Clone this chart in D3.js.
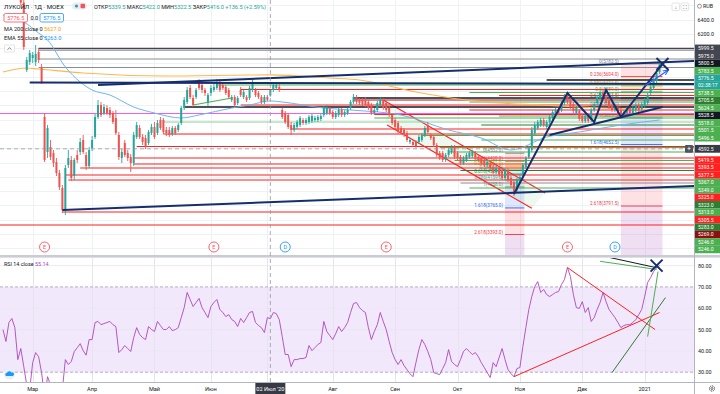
<!DOCTYPE html>
<html lang="ru">
<head>
<meta charset="utf-8">
<title>ЛУКОЙЛ · 1Д · MOEX</title>
<script src="https://cdn.jsdelivr.net/npm/d3@7"></script>
<style>
  html, body { margin: 0; padding: 0; background: #ffffff; overflow: hidden; }
  #chart { display: block; font-family: Roboto, "Liberation Sans", Arial, sans-serif; }
  #chart text { white-space: pre; }
</style>
</head>
<body>
<svg id="chart"></svg>
<script>
const instrumentTitle = "ЛУКОЙЛ · 1Д · MOEX";

// daily candles [open, high, low, close], index 0 = late Feb 2020, last = 11 Jan 2021
const candles = [
  [6720,6790,6700,6760],[6760,6830,6740,6800],[6800,6880,6780,6850],[6850,6870,6760,6780],[6780,6860,6750,6830],
  [6830,6880,6790,6800],[6800,6820,6600,6640],[6640,6680,5976,6018],[5696,5878,5668,5836],[5808,5976,5766,5934],
  [5864,5948,5794,5906],[5808,6046,5752,5920],[5948,6004,5794,5836],[5724,5780,5500,5528],[5038,5094,4408,4436],
  [4548,4926,4464,4884],[4618,4716,4436,4478],[4534,4576,4338,4394],[4408,4464,4212,4254],[4254,4296,4016,4058],
  [4044,4086,3694,3736],[3736,4366,3666,4324],[4366,4576,4324,4464],[4436,4492,4142,4184],[4212,4464,4156,4436],
  [4506,4576,4394,4436],[4548,4744,4506,4688],[4716,4786,4520,4548],[4506,4548,4296,4352],[4352,4618,4324,4576],
  [4604,4772,4562,4716],[4758,5080,4730,5038],[5038,5276,5010,5206],[5206,5248,5038,5066],[5094,5220,5066,5178],
  [5164,5206,5066,5094],[5136,5178,5024,5066],[5094,5122,4940,4968],[5024,5136,4786,4814],[4786,4828,4436,4478],
  [4464,4590,4394,4548],[4674,4716,4478,4506],[4534,4576,4422,4464],[4478,4520,4268,4394],[4394,4828,4352,4786],
  [4758,4968,4730,4926],[4884,4926,4730,4758],[4758,4800,4646,4688],[4744,4786,4590,4618],[4674,4856,4646,4828],
  [4814,4940,4786,4898],[4898,4968,4730,4758],[4814,4996,4786,4954],[4996,5038,4856,4884],[4996,5024,4800,4828],
  [4856,4898,4772,4814],[4856,4898,4758,4786],[4800,4912,4772,4884],[4884,4912,4786,4814],[4856,4954,4828,4926],
  [4954,5192,4926,5164],[5164,5318,5136,5276],[5248,5458,5220,5416],[5444,5486,5290,5318],[5304,5346,5178,5206],
  [5318,5444,5290,5416],[5528,5570,5416,5444],[5486,5514,5374,5416],[5416,5444,5332,5374],[5234,5374,5192,5346],
  [5374,5486,5332,5444],[5416,5500,5388,5458],[5444,5570,5416,5528],[5528,5570,5388,5416],[5486,5514,5416,5444],
  [5458,5486,5346,5374],[5416,5444,5290,5318],[5276,5346,5248,5318],[5318,5346,5178,5206],[5234,5332,5206,5304],
  [5416,5458,5318,5346],[5318,5416,5290,5388],[5318,5346,5248,5276],[5304,5472,5276,5444],[5416,5556,5388,5514],
  [5416,5444,5318,5346],[5374,5402,5290,5318],[5318,5346,5220,5248],[5248,5346,5220,5318],[5318,5346,5262,5279.5],
  [5339.5,5422,5322.5,5416],[5416,5528,5388,5486],[5444,5514,5416,5486],[5458,5500,5388,5416],[5136,5164,5010,5038],
  [5094,5122,4940,4968],[5066,5094,4870,4898],[4926,4968,4786,4856],[4856,4954,4828,4926],[4898,4996,4870,4968],
  [4926,5052,4898,5024],[4996,5024,4926,4954],[4954,5024,4926,4996],[4968,5066,4940,5038],[4982,5080,4954,5052],
  [4996,5052,4968,5024],[4996,5066,4968,5038],[5010,5080,4982,5052],[5066,5192,5038,5164],[5094,5206,5066,5164],
  [5150,5178,5066,5094],[5108,5136,5010,5038],[5038,5122,5010,5094],[5066,5164,5038,5136],[5136,5164,5038,5066],
  [5066,5136,5038,5108],[5094,5164,5066,5136],[5164,5276,5136,5248],[5248,5360,5220,5318],[5318,5346,5220,5248],
  [5276,5304,5206,5234],[5276,5304,5192,5220],[5276,5318,5178,5206],[5248,5276,5136,5164],[5206,5234,5066,5094],
  [5094,5164,5066,5136],[5136,5262,5108,5234],[5206,5318,5178,5276],[5276,5304,5136,5164],[5234,5262,5108,5136],
  [5164,5192,5038,5066],[5066,5094,4926,4954],[4996,5024,4870,4898],[4954,4982,4800,4828],[4884,4912,4800,4828],
  [4856,4884,4758,4786],[4814,4842,4688,4716],[4688,4744,4660,4716],[4688,4716,4618,4646],[4688,4716,4604,4632],
  [4688,4786,4660,4758],[4716,4814,4688,4786],[4786,4912,4758,4884],[4926,4968,4800,4828],[4786,4814,4716,4744],
  [4758,4786,4618,4646],[4646,4674,4478,4506],[4534,4562,4436,4464],[4534,4562,4408,4436],[4436,4534,4408,4506],
  [4506,4604,4478,4576],[4548,4646,4520,4618],[4618,4646,4450,4478],[4534,4562,4436,4464],[4478,4506,4366,4394],
  [4394,4492,4366,4464],[4436,4534,4408,4506],[4478,4562,4450,4534],[4492,4576,4464,4548],[4534,4562,4450,4478],
  [4478,4506,4408,4436],[4464,4492,4366,4394],[4436,4464,4338,4366],[4366,4436,4338,4408],[4394,4422,4296,4324],
  [4338,4366,4240,4268],[4268,4352,4240,4324],[4324,4352,4198,4226],[4296,4324,4156,4184],[4184,4324,4156,4296],
  [4296,4324,4128,4156],[4184,4212,4058,4086],[4128,4156,3932,3974],[4016,4184,3974,4156],[4128,4226,4100,4198],
  [4226,4394,4198,4366],[4338,4492,4310,4464],[4478,4632,4450,4604],[4576,4898,4548,4856],[4814,4968,4786,4926],
  [4884,4996,4856,4968],[4926,5024,4898,4996],[4996,5024,4898,4926],[4898,4996,4870,4968],[4968,5066,4940,5038],
  [5024,5136,4996,5108],[5094,5164,5066,5136],[5136,5164,5066,5094],[5136,5262,5108,5234],[5234,5360,5206,5332],
  [5346,5388,5220,5248],[5276,5304,5150,5178],[5220,5248,5094,5122],[5094,5192,5066,5164],[5122,5150,4982,5010],
  [5052,5080,4954,4982],[4982,5080,4954,5052],[5066,5094,4954,4982],[4996,5164,4968,5136],[5136,5248,5108,5220],
  [5234,5346,5206,5318],[5304,5402,5276,5374],[5388,5430,5276,5304],[5318,5346,5206,5234],[5276,5304,5150,5178],
  [5206,5234,5108,5136],[5136,5206,5108,5178],[5164,5192,5038,5066],[5136,5164,5024,5052],[5052,5136,5024,5108],
  [5094,5178,5066,5150],[5164,5192,5066,5094],[5094,5192,5066,5164],[5136,5234,5108,5206],[5206,5234,5108,5136],
  [5150,5248,5122,5220],[5192,5304,5164,5276],[5234,5374,5206,5346],[5374,5500,5346,5458],[5444,5598,5416,5556],
  [5542,5696,5514,5654],[5668,5783.5,5640,5776.5]
];

// RSI 14, one value per candle
const rsi14 = [
  50.0,44.4,53.3,55.2,50.9,35.9,41.1,32.6,24.0,22.0, 34.5,39.2,37.3,29.8,18.0,27.9,24.0,20.0,17.0,14.0,
  22.0,35.9,33.6,35.0,39.7,41.5,43.4,40.1,38.0,45.3, 45.3,53.3,53.8,52.3,52.8,53.3,53.8,52.3,51.4,39.2,
  40.6,42.5,41.1,39.7,46.2,50.9,47.7,46.2,45.3,51.4, 50.0,49.1,53.8,51.9,50.0,50.0,51.4,49.5,50.0,50.9,
  55.6,60.3,67.4,64.1,60.8,62.7,64.6,60.3,58.0,55.6, 60.8,62.7,64.1,59.4,58.0,56.1,57.0,54.7,53.8,51.4,
  55.2,53.3,55.6,58.0,58.5,53.3,51.9,50.9,48.6,55.6, 55.14,58.0,57.5,54.7,46.7,38.3,38.3,32.6,35.9,35.9,
  36.4,36.4,36.9,42.5,40.1,41.5,43.0,43.9,53.8,49.1, 47.2,45.3,48.1,51.4,49.1,50.9,53.3,58.0,62.2,62.7,
  60.3,58.9,58.0,50.9,45.3,49.1,52.3,58.0,53.8,50.0, 44.4,39.2,35.9,33.6,35.9,33.1,31.2,29.3,27.9,34.5,
  40.6,45.3,43.0,39.7,35.9,29.8,29.3,28.9,31.7,34.5, 40.6,35.0,33.6,32.6,35.9,39.7,41.1,39.7,38.3,39.2,
  37.3,34.5,32.2,29.8,27.5,34.5,32.6,36.9,41.1,35.9, 31.2,29.3,27.9,31.7,32.2,42.0,50.9,59.4,65.5,70.2,
  72.5,67.4,68.8,66.4,65.5,66.4,67.4,67.8,71.1,73.5, 79.1,74.9,66.4,60.3,59.9,63.1,58.0,60.3,53.8,55.6,
  59.4,62.7,67.4,63.1,59.4,57.5,55.6,53.3,50.9,51.9, 52.3,52.3,53.3,54.7,57.0,59.4,65.5,72.1,74.4,77.2,
  79.1,80.0
];

// moving averages, [candle index, value]
const ma200 = [[0,5668],[8,5724],[12,5710],[27,5654],[55,5612],[83,5626],[90,5627],[110,5584],[120,5556],
  [139,5388],[156,5276],[167,5234],[181,5206],[201,5164],[221,5136]];
const ema55 = [[0,6466],[7,6368],[12,6214],[15,6116],[21,5738],[26,5528],[30,5416],[36,5346],[44,5178],[51,5094],
  [60,5024],[66,5066],[77,5164],[83,5206],[90,5263],[94,5248],[108,5164],[117,5136],[134,5066],[150,4856],
  [161,4744],[171,4576],[183,4758],[194,4828],[208,4926],[221,4996]];

const monthTicks = [[10,"Мар"],[30,"Апр"],[51,"Май"],[70,"Июн"],[111,"Авг"],[132,"Сен"],[153,"Окт"],[174,"Ноя"],[195,"Дек"],[216,"2021"]];
const julyIndex = 89;
const crosshairIndex = 90;
const crosshairDate = "02 Июл '20";
const crosshairPrice = 4592.5;

// horizontal levels drawn on the chart: [price, first candle index, kind]
const hLevels = [
  [5999.5,12,"dark"],[5975.0,12,"gray"],[5850.0,12,"gray"],[5731.0,12,"gray"],[5556.0,183,"black"],
  [5486.0,72,"green"],[5423.0,80,"red"],[5381.0,157,"green"],[5339.0,167,"red"],[5304.0,118,"black"],
  [5276.0,118,"dred"],[5248.0,157,"green"],[5206.0,80,"red"],[5178.0,61,"black"],[5136.0,157,"red"],
  [5087.0,-2,"pink"],[5073.0,125,"red"],[5052.0,167,"green"],[5024.0,125,"green"],[4968.0,54,"lgreen"],
  [4926.0,161,"dgreen"],[4870.0,97,"red"],[4800.0,54,"red"],[4779.0,141,"green"],[4716.0,161,"green"],
  [4625.0,45,"red"],[4611.0,147,"green"],[4548.0,150,"green"],[4464.0,44,"red"],[4429.0,152,"green"],
  [4380.0,44,"red"],[4324.0,26,"red"],[4289.0,154,"dgreen"],[4226.0,21,"red"],[4156.0,22,"red"],
  [4114.0,154,"gray"],[4044.0,157,"green"],[3708.0,20,"red"],[3526.0,-2,"red"]
];

// trend lines [[index, price], [index, price], kind]
const trendLines = [
  [[9,5521],[233,5500],"navy"],
  [[32,5486],[233,5822],"navy"],
  [[20,3736],[233,4072],"navy"],
  [[184,4786],[222,5178],"navy"],
  [[64,5206],[77,5304],"green"]
];
const channelUpper = [[128,5276],[182.5,3974]];
const channelLower = [[129.3,4926],[178,3760]];
const zigzag = [[172,3960],[190,5374],[199,4968],[203,5416],[208,5038],[222,5780]];
const arrowLine = [[216,5472],[224,5696]];
const priceCross = [222,5780];

// fibonacci extensions [level, price]
const fibRight = [["0",5783.5],["0.236",5604.0],["0.382",5474.5],["0.5",5389.0],["0.618",5303.5],
  ["0.786",5181.0],["1",5025.5],["1.618",4652.5],["2.618",3791.5],["3.618",2931.0]];
const fibRightSpan = [208, 222];
const fibLeft = [["0",4532.0],["0.236",4420.0],["0.382",4351.0],["0.5",4295.0],["0.618",4239.0],
  ["0.786",4159.0],["1",4058.0],["1.618",3765.0],["2.618",3393.0],["3.618",3021.0]];
const fibLeftSpan = [169, 175.5];

// RSI pane drawings
const rsiLines = [
  [[172,27.9],[221,58.0],"red"],
  [[190,79.1],[219.5,50.0],"red"],
  [[197,86.0],[220,79.0],"black"],
  [[201,82.0],[220,78.2],"green"],
  [[205,29.8],[223,65.0],"dgreen"],
  [[217,46.7],[220.5,77.2],"green"]
];
const rsiCross = [220, 80];

// earnings / dividends markers (candle index)
const earnings = [14, 71, 129, 190];
const dividends = [95, 206];

// price scale tags, stacked top to bottom
const tagPrices = [5999.5,5975.0,5800.5,5783.5,5776.5,null,5738.5,5705.5,5624.5,5528.5,5518.0,5501.5,5496.5,5457.5,
  5440.0,5419.5,5393.5,5377.5,5367.0,5349.0,5325.0,5323.0,5313.0,5305.5,5283.0,5269.0,5246.0,5246.0];
const tagKinds = ["dark","dark","black","green","last","last","green","dgreen","green","black","green","green","green","green",
  "green","red","red","red","green","green","red","dgreen","green","red","dgreen","maroon","green","green"];
const countdown = "02:38:17";

const rsiTicks = [80, 70, 60, 50, 40, 30];

class TvChart {
  constructor(_config) {
    this.config = {
      parentElement: _config.parentElement,
      containerWidth: 720,
      containerHeight: 394,
      plotWidth: 694,
      mainHeight: 255,
      rsiTop: 258,
      rsiBottom: 382,
      tagStep: 7.45,
    };
    this.initVis();
  }

  initVis() {
    let vis = this;
    const c = vis.config;

    vis.svg = d3.select(c.parentElement)
      .attr("width", c.containerWidth)
      .attr("height", c.containerHeight);

    vis.x = d3.scaleLinear().domain([-1, 232.6]).range([0, c.plotWidth]);
    vis.y = d3.scaleLinear().domain([6676, 3106]).range([0, c.mainHeight]);
    vis.yRsi = d3.scaleLinear().domain([80, 30]).range([265.6, 372.2]);
    vis.fmt = d3.format(".1f");

    vis.colors = {
      up: "#26a69a", down: "#ef5350",
      red: "#ff2020", green: "#4caf50", lgreen: "#8fcf92", dgreen: "#2e7d32", black: "#131722",
      dark: "#434651", gray: "#8a8d96", pink: "#f25cf2", dred: "#a31515", navy: "#152f6e",
      maroon: "#8b1111", last: "#26a69a", grid: "#eef1f6", text: "#131722"
    };
    vis.fibColors = {
      "0": "#787b86", "0.236": "#f23645", "0.382": "#ff9800", "0.5": "#4caf50", "0.618": "#089981",
      "0.786": "#00bcd4", "1": "#787b86", "1.618": "#2962ff", "2.618": "#f23645", "3.618": "#9c27b0"
    };

    const defs = vis.svg.append("defs");
    defs.append("clipPath").attr("id", "clip-main")
      .append("rect").attr("width", c.plotWidth).attr("height", c.mainHeight);
    defs.append("clipPath").attr("id", "clip-rsi")
      .append("rect").attr("y", c.rsiTop).attr("width", c.plotWidth).attr("height", c.rsiBottom - c.rsiTop);
    defs.append("marker").attr("id", "arrow").attr("viewBox", "0 0 10 10")
      .attr("refX", 9).attr("refY", 5).attr("markerWidth", 5).attr("markerHeight", 5).attr("orient", "auto")
      .append("path").attr("d", "M0,1 L9,5 L0,9").attr("fill", "none").attr("stroke", "#2962ff").attr("stroke-width", 1.6);

    vis.svg.append("rect").attr("width", c.containerWidth).attr("height", c.containerHeight).attr("fill", "#fff");

    vis.gridLayer = vis.svg.append("g").attr("shape-rendering", "crispEdges");
    vis.main = vis.svg.append("g").attr("clip-path", "url(#clip-main)");
    vis.rsi = vis.svg.append("g").attr("clip-path", "url(#clip-rsi)");
    vis.axes = vis.svg.append("g");

    vis.updateVis();
  }

  updateVis() {
    let vis = this;
    vis.bars = candles.map((d, i) => ({ i: i, o: d[0], h: d[1], l: d[2], c: d[3] }));

    // stack the price tags downward so that they never overlap;
    // the ones sitting under the crosshair label stay hidden, like on the screen
    const crossY = vis.y(crosshairPrice);
    let prevY = -Infinity;
    vis.tags = tagPrices.map((p, k) => {
      const yy = Math.max(p === null ? -Infinity : vis.y(p), prevY + vis.config.tagStep);
      prevY = yy;
      return { p: p, kind: tagKinds[k], y: yy };
    }).filter(d => d.y < vis.config.mainHeight - 2 && Math.abs(d.y - crossY) > 6);

    vis.renderVis();
  }

  renderVis() {
    let vis = this;
    vis.drawGrid();
    vis.drawFib(fibLeft, fibLeftSpan);
    vis.drawFib(fibRight, fibRightSpan);
    vis.drawChannel();
    vis.drawLevels();
    vis.drawAverages();
    vis.drawCandles();
    vis.drawTrendLines();
    vis.drawMarkers();
    vis.drawRsi();
    vis.drawAxes();
    vis.drawLegend();
  }

  drawGrid() {
    let vis = this;
    const c = vis.config;
    const g = vis.gridLayer;
    const vIdx = monthTicks.map(d => d[0]).concat([julyIndex]);
    g.selectAll("line.v").data(vIdx).join("line").attr("class", "v")
      .attr("x1", d => Math.round(vis.x(d)) + 0.5).attr("x2", d => Math.round(vis.x(d)) + 0.5)
      .attr("y1", 0).attr("y2", c.mainHeight).attr("stroke", vis.colors.grid);
    g.selectAll("line.h").data(d3.range(3200, 6601, 200)).join("line").attr("class", "h")
      .attr("x1", 0).attr("x2", c.plotWidth)
      .attr("y1", d => Math.round(vis.y(d)) + 0.5).attr("y2", d => Math.round(vis.y(d)) + 0.5)
      .attr("stroke", vis.colors.grid);

    // RSI band and grid
    const r = vis.rsi;
    r.append("rect").attr("x", 0).attr("width", c.plotWidth)
      .attr("y", vis.yRsi(70)).attr("height", vis.yRsi(30) - vis.yRsi(70)).attr("fill", "#f2e8fb");
    r.selectAll("line.rg").data([40, 50, 60, 80]).join("line").attr("class", "rg")
      .attr("x1", 0).attr("x2", c.plotWidth)
      .attr("y1", d => vis.yRsi(d)).attr("y2", d => vis.yRsi(d))
      .attr("stroke", "#e9e4f2").attr("stroke-width", 0.8);
    r.selectAll("line.rv").data(vIdx).join("line").attr("class", "rv")
      .attr("x1", d => Math.round(vis.x(d)) + 0.5).attr("x2", d => Math.round(vis.x(d)) + 0.5)
      .attr("y1", c.rsiTop).attr("y2", c.rsiBottom).attr("stroke", "#e7e3f0");
    r.selectAll("line.band").data([70, 30]).join("line").attr("class", "band")
      .attr("x1", 0).attr("x2", c.plotWidth)
      .attr("y1", d => vis.yRsi(d)).attr("y2", d => vis.yRsi(d))
      .attr("stroke", "#a89bb8").attr("stroke-dasharray", "3,2").attr("stroke-width", 0.8);
  }

  drawFib(levels, span) {
    let vis = this;
    const x0 = vis.x(span[0]), x1 = vis.x(span[1]);
    const g = vis.main.append("g");
    const bands = levels.slice(1).map((d, k) => ({ top: levels[k][1], bottom: d[1], lvl: d[0] }));
    g.selectAll("rect").data(bands).join("rect")
      .attr("x", x0).attr("width", x1 - x0)
      .attr("y", d => vis.y(d.top)).attr("height", d => vis.y(d.bottom) - vis.y(d.top))
      .attr("fill", d => vis.fibColors[d.lvl]).attr("fill-opacity", 0.15);
    g.selectAll("line").data(levels).join("line")
      .attr("x1", x0).attr("x2", x1)
      .attr("y1", d => vis.y(d[1])).attr("y2", d => vis.y(d[1]))
      .attr("stroke", d => vis.fibColors[d[0]]).attr("stroke-width", 0.9);
    g.selectAll("text").data(levels.filter(d => vis.y(d[1]) < vis.config.mainHeight - 2)).join("text")
      .attr("x", x0 - 2).attr("y", d => vis.y(d[1]) - 1)
      .attr("text-anchor", "end").attr("font-size", 4.6)
      .attr("fill", d => vis.fibColors[d[0]])
      .text(d => `${d[0]}(${vis.fmt(d[1])})`);
  }

  drawChannel() {
    let vis = this;
    const pts = [channelUpper[0], channelUpper[1], channelLower[1], channelLower[0]]
      .map(p => [vis.x(p[0]), vis.y(p[1])]);
    vis.main.append("path").attr("d", "M" + pts.join("L") + "Z")
      .attr("fill", "#4caf50").attr("fill-opacity", 0.09);
    vis.main.selectAll("line.ch").data([channelUpper, channelLower]).join("line").attr("class", "ch")
      .attr("x1", d => vis.x(d[0][0])).attr("y1", d => vis.y(d[0][1]))
      .attr("x2", d => vis.x(d[1][0])).attr("y2", d => vis.y(d[1][1]))
      .attr("stroke", vis.colors.red).attr("stroke-width", 1.1);
  }

  drawLevels() {
    let vis = this;
    vis.main.append("g").selectAll("line").data(hLevels).join("line")
      .attr("x1", d => vis.x(d[1])).attr("x2", vis.config.plotWidth)
      .attr("y1", d => vis.y(d[0])).attr("y2", d => vis.y(d[0]))
      .attr("stroke", d => vis.colors[d[2]])
      .attr("stroke-width", d => d[2] === "black" ? 1.5 : 1.2);
  }

  drawAverages() {
    let vis = this;
    const line = d3.line().x(d => vis.x(d[0])).y(d => vis.y(d[1])).curve(d3.curveMonotoneX);
    vis.main.append("path").datum(ma200).attr("d", line)
      .attr("fill", "none").attr("stroke", "#ffb74d").attr("stroke-width", 1.2);
    vis.main.append("path").datum(ema55).attr("d", line)
      .attr("fill", "none").attr("stroke", "#6db6f2").attr("stroke-width", 1);
  }

  drawCandles() {
    let vis = this;
    const col = d => d.c >= d.o ? vis.colors.up : vis.colors.down;
    const g = vis.main.append("g").selectAll("g").data(vis.bars).join("g");
    g.append("line")
      .attr("x1", d => vis.x(d.i)).attr("x2", d => vis.x(d.i))
      .attr("y1", d => vis.y(d.h)).attr("y2", d => vis.y(d.l))
      .attr("stroke", col).attr("stroke-width", 0.9);
    g.append("rect")
      .attr("x", d => vis.x(d.i) - 1).attr("width", 2)
      .attr("y", d => vis.y(Math.max(d.o, d.c)))
      .attr("height", d => Math.max(1, Math.abs(vis.y(d.o) - vis.y(d.c))))
      .attr("fill", col);
  }

  drawTrendLines() {
    let vis = this;
    const g = vis.main.append("g");
    g.selectAll("line").data(trendLines).join("line")
      .attr("x1", d => vis.x(d[0][0])).attr("y1", d => vis.y(d[0][1]))
      .attr("x2", d => vis.x(d[1][0])).attr("y2", d => vis.y(d[1][1]))
      .attr("stroke", d => vis.colors[d[2]])
      .attr("stroke-width", d => d[2] === "navy" ? 2 : 1.1);
    g.append("path").datum(zigzag)
      .attr("d", d3.line().x(d => vis.x(d[0])).y(d => vis.y(d[1])))
      .attr("fill", "none").attr("stroke", vis.colors.navy).attr("stroke-width", 2);
    g.append("line")
      .attr("x1", vis.x(arrowLine[0][0])).attr("y1", vis.y(arrowLine[0][1]))
      .attr("x2", vis.x(arrowLine[1][0])).attr("y2", vis.y(arrowLine[1][1]))
      .attr("stroke", "#2962ff").attr("stroke-width", 1.2).attr("marker-end", "url(#arrow)");
    vis.drawCross(g, vis.x(priceCross[0]), vis.y(priceCross[1]));

    // crosshair
    const c = vis.config;
    const cx = vis.x(crosshairIndex);
    vis.svg.append("line").attr("x1", cx).attr("x2", cx).attr("y1", 0).attr("y2", c.rsiBottom)
      .attr("stroke", "#9598a1").attr("stroke-dasharray", "4,3").attr("stroke-width", 0.8);
    vis.main.append("line").attr("x1", 0).attr("x2", c.plotWidth)
      .attr("y1", vis.y(crosshairPrice)).attr("y2", vis.y(crosshairPrice))
      .attr("stroke", "#9598a1").attr("stroke-dasharray", "4,3").attr("stroke-width", 0.8);
  }

  drawCross(g, cx, cy) {
    let vis = this;
    const s = 6;
    g.append("path").attr("d", `M${cx - s},${cy - s}L${cx + s},${cy + s}M${cx - s},${cy + s}L${cx + s},${cy - s}`)
      .attr("stroke", vis.colors.navy).attr("stroke-width", 2).attr("fill", "none");
  }

  drawMarkers() {
    let vis = this;
    const yy = 247;
    const evs = earnings.map(i => ({ i: i, t: "E", c: "#f7525f" }))
      .concat(dividends.map(i => ({ i: i, t: "D", c: "#2196f3" })));
    const g = vis.main.append("g").selectAll("g").data(evs).join("g")
      .attr("transform", d => `translate(${vis.x(d.i)},${yy})`);
    g.append("circle").attr("r", 5).attr("fill", "#fff").attr("stroke", d => d.c).attr("stroke-width", 0.9);
    g.append("text").attr("y", 2).attr("text-anchor", "middle").attr("font-size", 5.5)
      .attr("fill", d => d.c).text(d => d.t);
  }

  drawRsi() {
    let vis = this;
    const r = vis.rsi;
    r.append("path").datum(rsi14)
      .attr("d", d3.line().x((d, i) => vis.x(i)).y(d => vis.yRsi(d)))
      .attr("fill", "none").attr("stroke", "#ab47bc").attr("stroke-width", 0.9);
    r.selectAll("line.tl").data(rsiLines).join("line").attr("class", "tl")
      .attr("x1", d => vis.x(d[0][0])).attr("y1", d => vis.yRsi(d[0][1]))
      .attr("x2", d => vis.x(d[1][0])).attr("y2", d => vis.yRsi(d[1][1]))
      .attr("stroke", d => vis.colors[d[2]]).attr("stroke-width", 1);
    vis.drawCross(r, vis.x(rsiCross[0]), vis.yRsi(rsiCross[1]));
    vis.svg.append("text").attr("x", 4).attr("y", 265.5).attr("font-size", 5.4)
      .call(t => {
        t.append("tspan").attr("fill", vis.colors.text).text("RSI 14 close ");
        t.append("tspan").attr("fill", "#ab47bc").text(d3.format(".2f")(rsi14[crosshairIndex]));
      });
  }

  drawAxes() {
    let vis = this;
    const c = vis.config;
    const a = vis.axes;
    // pane separator and axis borders
    a.append("rect").attr("x", 0).attr("y", c.mainHeight).attr("width", c.containerWidth).attr("height", 2.6).attr("fill", "#c9ccd3");
    a.append("line").attr("x1", 0).attr("x2", c.containerWidth).attr("y1", c.rsiBottom + 0.5).attr("y2", c.rsiBottom + 0.5)
      .attr("stroke", "#b2b5be");
    a.append("rect").attr("x", c.plotWidth).attr("y", 0).attr("width", c.containerWidth - c.plotWidth)
      .attr("height", c.mainHeight).attr("fill", "#fff");
    a.append("rect").attr("x", c.plotWidth).attr("y", c.rsiTop).attr("width", c.containerWidth - c.plotWidth)
      .attr("height", c.rsiBottom - c.rsiTop).attr("fill", "#fff");
    a.append("line").attr("x1", c.plotWidth + 0.5).attr("x2", c.plotWidth + 0.5).attr("y1", 0).attr("y2", c.containerHeight)
      .attr("stroke", "#b2b5be");

    // price ticks that are not hidden under the stacked tags
    const firstTag = vis.tags.length ? vis.tags[0].y : c.mainHeight;
    const ticks = d3.range(3200, 6601, 200).filter(p => vis.y(p) > 12 && vis.y(p) < firstTag - 7);
    a.selectAll("text.pt").data(ticks).join("text").attr("class", "pt")
      .attr("x", c.plotWidth + 3.5).attr("y", d => vis.y(d) + 2)
      .attr("font-size", 5.4).attr("fill", vis.colors.text).text(d => vis.fmt(d));
    a.append("text").attr("x", c.plotWidth + 9).attr("y", 8).attr("font-size", 5.4).attr("fill", vis.colors.text).text("RUB");
    a.append("circle").attr("cx", c.plotWidth + 5.5).attr("cy", 6.2).attr("r", 2).attr("fill", "none")
      .attr("stroke", "#50535e").attr("stroke-width", 0.6);

    // stacked price tags
    const tg = a.append("g").selectAll("g").data(vis.tags).join("g")
      .attr("transform", d => `translate(${c.plotWidth + 1},${d.y})`);
    tg.append("rect").attr("x", 0).attr("y", -3.75).attr("width", c.containerWidth - c.plotWidth - 1).attr("height", 7.5)
      .attr("fill", d => vis.colors[d.kind]);
    tg.append("text").attr("x", 3).attr("y", 1.9).attr("font-size", 5.1).attr("fill", "#fff")
      .text(d => d.p === null ? countdown : vis.fmt(d.p));

    // crosshair price label
    const cy = vis.y(crosshairPrice);
    a.append("rect").attr("x", c.plotWidth + 1).attr("y", cy - 3.9).attr("width", c.containerWidth - c.plotWidth - 1)
      .attr("height", 7.8).attr("fill", "#363a45");
    a.append("text").attr("x", c.plotWidth + 4).attr("y", cy + 2).attr("font-size", 5.1).attr("fill", "#fff")
      .text(vis.fmt(crosshairPrice));
    a.append("rect").attr("x", c.plotWidth - 9).attr("y", cy - 3.9).attr("width", 8).attr("height", 7.8)
      .attr("fill", "#50535e").attr("rx", 1);
    a.append("text").attr("x", c.plotWidth - 5).attr("y", cy + 2.3).attr("text-anchor", "middle")
      .attr("font-size", 7).attr("fill", "#fff").text("+");

    // RSI ticks
    a.selectAll("text.rt").data(rsiTicks).join("text").attr("class", "rt")
      .attr("x", c.plotWidth + 4).attr("y", d => vis.yRsi(d) + 2)
      .attr("font-size", 5.4).attr("fill", vis.colors.text).text(d => d3.format(".2f")(d));

    // time axis
    a.selectAll("text.mt").data(monthTicks).join("text").attr("class", "mt")
      .attr("x", d => vis.x(d[0])).attr("y", 391).attr("text-anchor", "middle")
      .attr("font-size", 5.6).attr("fill", vis.colors.text).text(d => d[1]);
    const tx = vis.x(crosshairIndex);
    a.append("rect").attr("x", tx - 15).attr("y", c.rsiBottom + 1).attr("width", 30).attr("height", 11)
      .attr("fill", "#363a45");
    a.append("text").attr("x", tx).attr("y", 391).attr("text-anchor", "middle")
      .attr("font-size", 5.6).attr("fill", "#fff").text(crosshairDate);

    // small icons
    a.append("circle").attr("cx", 712).attr("cy", 388.5).attr("r", 2.6).attr("fill", "none")
      .attr("stroke", "#131722").attr("stroke-width", 0.8).attr("stroke-dasharray", "1.2,0.8");
    a.append("circle").attr("cx", 712).attr("cy", 388.5).attr("r", 1).attr("fill", "none")
      .attr("stroke", "#131722").attr("stroke-width", 0.6);
    a.append("circle").attr("cx", 9.5).attr("cy", 374).attr("r", 5.5).attr("fill", "#e3f0fd");
    a.append("path").attr("d", "M6,376 a1.8,1.8 0 0 1 1,-3.2 a2.4,2.4 0 0 1 4.4,-0.4 a1.8,1.8 0 0 1 1.4,3.6 Z")
      .attr("fill", "#2196f3");
    [672, 681].forEach((bx, k) => {
      a.append("rect").attr("x", bx).attr("y", 3).attr("width", 7.5).attr("height", 7.5).attr("rx", 1)
        .attr("fill", "#fff").attr("stroke", "#d1d4dc").attr("stroke-width", 0.6);
      a.append("text").attr("x", bx + 3.75).attr("y", 8.9).attr("text-anchor", "middle")
        .attr("font-size", 5.5).attr("fill", "#50535e").text(k ? "⛶" : "↓");
    });
  }

  drawLegend() {
    let vis = this;
    const lg = vis.svg.append("g");
    const bar = candles[crosshairIndex];
    const prevClose = candles[crosshairIndex - 1][3];
    const last = candles[candles.length - 1][3];
    const up = vis.colors.up;

    lg.append("text").attr("x", 4).attr("y", 9).attr("font-size", 6.2).attr("fill", vis.colors.text).text(instrumentTitle);
    lg.append("rect").attr("x", 72).attr("y", 2.5).attr("width", 15).attr("height", 7).attr("rx", 3.5).attr("fill", "#e9ecf2");
    lg.append("circle").attr("cx", 76.5).attr("cy", 6).attr("r", 1.6).attr("fill", up);
    lg.append("rect").attr("x", 80.5).attr("y", 3.8).attr("width", 4.5).attr("height", 4.5).attr("rx", 1).attr("fill", "#f7525f");

    const t = lg.append("text").attr("x", 94).attr("y", 9).attr("font-size", 5.6);
    [["ОТКР", bar[0]], ["МАКС", bar[1]], ["МИН", bar[2]], ["ЗАКР", bar[3]]].forEach((d, n) => {
      t.append("tspan").attr("fill", vis.colors.text).text((n ? " " : "") + d[0]);
      t.append("tspan").attr("fill", up).text(vis.fmt(d[1]));
    });
    const ch = bar[3] - prevClose;
    t.append("tspan").attr("fill", up).text(` +${vis.fmt(ch)} (+${(ch / prevClose * 100).toFixed(2)}%)`);

    // sell / spread / buy
    lg.append("rect").attr("x", 4).attr("y", 13.5).attr("width", 23.5).attr("height", 8.5).attr("rx", 1.5)
      .attr("fill", "#fff").attr("stroke", "#f7525f").attr("stroke-width", 0.8);
    lg.append("text").attr("x", 15.75).attr("y", 20).attr("text-anchor", "middle").attr("font-size", 5.6)
      .attr("fill", "#f7525f").text(vis.fmt(last));
    lg.append("text").attr("x", 30.5).attr("y", 20).attr("font-size", 5.6).attr("fill", vis.colors.text).text("0.0");
    lg.append("rect").attr("x", 40).attr("y", 13.5).attr("width", 23.5).attr("height", 8.5).attr("rx", 1.5)
      .attr("fill", "#fff").attr("stroke", "#2196f3").attr("stroke-width", 0.8);
    lg.append("text").attr("x", 51.75).attr("y", 20).attr("text-anchor", "middle").attr("font-size", 5.6)
      .attr("fill", "#2196f3").text(vis.fmt(last));

    const maVal = ma200.find(d => d[0] === crosshairIndex)[1];
    const emaVal = ema55.find(d => d[0] === crosshairIndex)[1];
    const m = lg.append("text").attr("x", 4).attr("y", 31).attr("font-size", 5.6);
    m.append("tspan").attr("fill", vis.colors.text).text("MA 200 close 0 ");
    m.append("tspan").attr("fill", "#ff9800").text(vis.fmt(maVal));
    const e = lg.append("text").attr("x", 4).attr("y", 40).attr("font-size", 5.6);
    e.append("tspan").attr("fill", vis.colors.text).text("EMA 55 close 0 ");
    e.append("tspan").attr("fill", "#2196f3").text(vis.fmt(emaVal));

    lg.append("rect").attr("x", 4.5).attr("y", 45).attr("width", 10).attr("height", 7).attr("rx", 1)
      .attr("fill", "#fff").attr("stroke", "#d1d4dc").attr("stroke-width", 0.6);
    lg.append("path").attr("d", "M7.5,49.8 L9.5,47.6 L11.5,49.8").attr("fill", "none")
      .attr("stroke", "#50535e").attr("stroke-width", 0.7);
  }
}

new TvChart({ parentElement: "#chart" });
</script>
</body>
</html>
